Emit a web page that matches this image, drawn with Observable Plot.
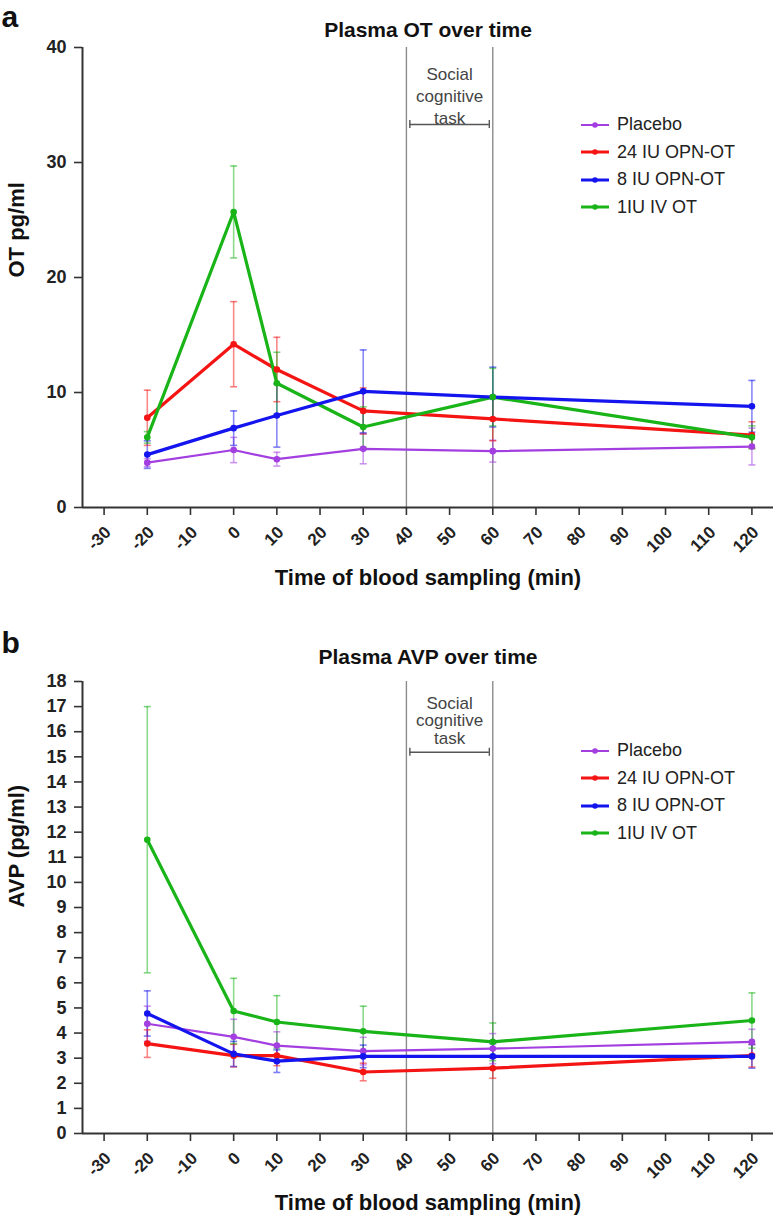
<!DOCTYPE html>
<html><head><meta charset="utf-8">
<script src="https://cdn.jsdelivr.net/npm/d3@7"></script>
<script src="https://cdn.jsdelivr.net/npm/@observablehq/plot@0.6"></script>
<style>
body{margin:0;background:#fff;font-family:"Liberation Sans",Arial,sans-serif;}
.panel{position:relative;width:773px;overflow:hidden;}
.panel svg.plot{position:absolute;left:0;top:0;}
.legend{position:absolute;left:581px;font-size:18px;color:#222;}
.legend .row{display:flex;align-items:center;height:27.5px;white-space:nowrap;}
.legend .row svg{margin-right:8px;}
</style></head><body>
<div class="panel" id="pa" style="height:600px"></div>
<div class="panel" id="pb" style="height:620px"></div>
<script>
// ---- shared categories ----
const times = [-20, 0, 10, 30, 60, 120];
const xTicks = [-30, -20, -10, 0, 10, 20, 30, 40, 50, 60, 70, 80, 90, 100, 110, 120];
const seriesNames = ["Placebo", "24 IU OPN-OT", "8 IU OPN-OT", "1IU IV OT"];
const seriesColors = ["#a33ee0", "#f41414", "#1414ee", "#18b418"];
const taskStart = 40, taskEnd = 60;
const taskLabel = "Social\ncognitive\ntask";
const xLabel = "Time of blood sampling (min)";

// ---- panel a: plasma OT (pg/ml), mean and error ----
const otTicks = [0, 10, 20, 30, 40];
const otPlacebo = [3.9, 5.0, 4.2, 5.1, 4.9, 5.3];
const otPlaceboErr = [0.35, 1.1, 0.6, 1.3, 0.95, 1.6];
const ot24 = [7.8, 14.2, 12.0, 8.4, 7.7, 6.3];
const ot24Err = [2.4, 3.7, 2.8, 2.0, 1.9, 1.15];
const ot8 = [4.6, 6.9, 8.0, 10.1, 9.6, 8.8];
const ot8Err = [1.2, 1.5, 2.75, 3.6, 2.6, 2.25];
const otIV = [6.1, 25.7, 10.8, 7.0, 9.6, 6.1];
const otIVErr = [0.5, 4.0, 2.7, 1.75, 2.5, 1.0];

// ---- panel b: plasma AVP (pg/ml), mean and error ----
const avpTicks = [0,1,2,3,4,5,6,7,8,9,10,11,12,13,14,15,16,17,18];
const avpPlacebo = [4.37, 3.85, 3.5, 3.28, 3.38, 3.65];
const avpPlaceboErr = [0.7, 0.7, 0.55, 0.55, 0.6, 0.5];
const avp24 = [3.58, 3.1, 3.1, 2.45, 2.6, 3.1];
const avp24Err = [0.55, 0.45, 0.4, 0.35, 0.4, 0.45];
const avp8 = [4.78, 3.17, 2.88, 3.07, 3.07, 3.07];
const avp8Err = [0.9, 0.5, 0.45, 0.45, 0.5, 0.47];
const avpIV = [11.7, 4.88, 4.44, 4.07, 3.65, 4.5];
const avpIVErr = [5.3, 1.3, 1.05, 1.0, 0.75, 1.1];

function buildRows(means, errs) {
  const rows = [];
  seriesNames.forEach((s, i) => {
    times.forEach((t, j) => rows.push({series: s, t, v: means[i][j], e: errs[i][j]}));
  });
  return rows;
}

const hline = {draw(ctx, size) { const r = Math.sqrt(size / Math.PI); ctx.moveTo(-r, 0); ctx.lineTo(r, 0); }};

function makePanel(el, cfg) {
  const rows = buildRows(cfg.means, cfg.errs);
  const yMax = cfg.yDomain[1];
  const lineMarks = [];
  const drawOrder = [0, 1, 3, 2];
  drawOrder.forEach(i => {
    const s = seriesNames[i];
    lineMarks.push(Plot.line(rows.filter(d => d.series === s), {
      x: "t", y: "v", stroke: seriesColors[i], strokeWidth: i === 0 ? 2.2 : 3.2
    }));
  });
  const barInset = 0.8;
  const chart = Plot.plot({
    width: 773, height: cfg.height,
    marginTop: cfg.marginTop, marginBottom: cfg.marginBottom, marginLeft: 82, marginRight: 0,
    style: {fontFamily: "'Liberation Sans', Arial, sans-serif", background: "white", overflow: "visible", color: "#222"},
    x: {domain: [-35, 125]},
    y: {domain: cfg.yDomain},
    color: {domain: seriesNames, range: seriesColors},
    marks: [
      Plot.ruleX([taskStart, taskEnd], {y1: 0, y2: yMax, stroke: "#8c8c8c", strokeWidth: 1.4}),
      Plot.text([taskLabel], {x: (taskStart + taskEnd) / 2, y: cfg.taskTextY, fontSize: 17,
        lineHeight: cfg.taskLineHeight, fill: "#444"}),
      Plot.ruleY([cfg.taskBarY], {x1: taskStart + barInset, x2: taskEnd - barInset, stroke: "#555", strokeWidth: 1.4}),
      Plot.ruleX([taskStart + barInset, taskEnd - barInset], {y1: cfg.taskBarY - cfg.taskCap, y2: cfg.taskBarY + cfg.taskCap, stroke: "#555", strokeWidth: 1.4}),
      Plot.axisY({ticks: cfg.yTicks, tickSize: 8, tickPadding: 8, stroke: "#333", strokeWidth: 1.6,
        fontSize: 18, fontWeight: "bold", fill: "#222", label: null}),
      Plot.axisX({ticks: xTicks, tickSize: 8, stroke: "#333", strokeWidth: 1.6, tickFormat: () => "", label: null}),
      Plot.axisX({ticks: xTicks, tickSize: 0, tickPadding: 22, tickRotate: -45, dx: 4,
        tickFormat: d => String(d), fontSize: 17, fontWeight: "bold", fill: "#222", label: null}),
      Plot.ruleX([-35], {y1: 0, y2: yMax, stroke: "#333", strokeWidth: 2}),
      Plot.ruleY([0], {stroke: "#333", strokeWidth: 2}),
      Plot.ruleX(rows, {x: "t", y1: d => d.v - d.e, y2: d => d.v + d.e, stroke: "series", strokeOpacity: 0.5, strokeWidth: 1.6}),
      Plot.dot(rows, {x: "t", y: d => d.v + d.e, symbol: hline, r: 3.5, stroke: "series", strokeOpacity: 0.55, strokeWidth: 1.6}),
      Plot.dot(rows, {x: "t", y: d => d.v - d.e, symbol: hline, r: 3.5, stroke: "series", strokeOpacity: 0.55, strokeWidth: 1.6}),
      ...lineMarks,
      Plot.dot(rows, {x: "t", y: "v", fill: "series", r: 3.3}),
      Plot.text([cfg.title], {frameAnchor: "top", lineAnchor: "middle", dy: cfg.titleDy, fontSize: 21, fontWeight: "bold", fill: "#111"}),
      Plot.text([cfg.letter], {frameAnchor: "top-left", lineAnchor: "middle", textAnchor: "start", dx: -81, dy: cfg.letterDy, fontSize: 30, fontWeight: "bold", fill: "#111"}),
      Plot.text([cfg.yLabel], {frameAnchor: "left", rotate: -90, dx: -66, fontSize: 22, fontWeight: "bold", fill: "#111"}),
      Plot.text([xLabel], {frameAnchor: "bottom", lineAnchor: "middle", dy: cfg.xLabelDy, fontSize: 22, fontWeight: "bold", fill: "#111"})
    ]
  });
  chart.classList.add("plot");
  el.appendChild(chart);

  const lg = document.createElement("div");
  lg.className = "legend";
  lg.style.top = cfg.legendTop + "px";
  seriesNames.forEach((s, i) => {
    const row = document.createElement("div");
    row.className = "row";
    const w = i === 0 ? 2 : 3;
    row.innerHTML = `<svg width="28" height="10"><line x1="0" y1="5" x2="28" y2="5" stroke="${seriesColors[i]}" stroke-width="${w}"/><circle cx="14" cy="5" r="2.8" fill="${seriesColors[i]}"/></svg><span>${s}</span>`;
    lg.appendChild(row);
  });
  el.appendChild(lg);
}

makePanel(document.getElementById("pa"), {
  height: 600, marginTop: 47, marginBottom: 93,
  yDomain: [0, 40], yTicks: otTicks,
  means: [otPlacebo, ot24, ot8, otIV], errs: [otPlaceboErr, ot24Err, ot8Err, otIVErr],
  title: "Plasma OT over time", titleDy: -17, letter: "a", letterDy: -30,
  yLabel: "OT pg/ml", xLabelDy: 70,
  taskTextY: 35.9, taskLineHeight: 1.3, taskBarY: 33.3, taskCap: 0.35,
  legendTop: 111
});

makePanel(document.getElementById("pb"), {
  height: 620, marginTop: 81, marginBottom: 87,
  yDomain: [0, 18], yTicks: avpTicks,
  means: [avpPlacebo, avp24, avp8, avpIV], errs: [avpPlaceboErr, avp24Err, avp8Err, avpIVErr],
  title: "Plasma AVP over time", titleDy: -24, letter: "b", letterDy: -38,
  yLabel: "AVP (pg/ml)", xLabelDy: 69,
  taskTextY: 16.44, taskLineHeight: 1.05, taskBarY: 15.18, taskCap: 0.16,
  legendTop: 137
});
</script>
</body></html>
